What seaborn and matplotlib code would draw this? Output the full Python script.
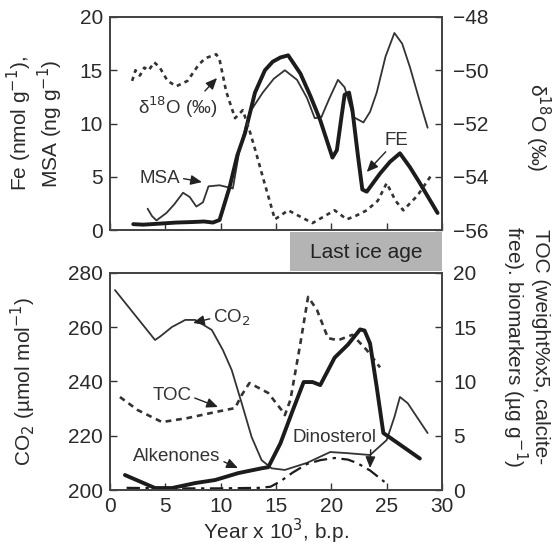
import numpy as np
import pandas as pd
import matplotlib
matplotlib.use("Agg")
import matplotlib.pyplot as plt
import seaborn as sns
from matplotlib.patches import Rectangle

sns.set_style("ticks")
plt.rcParams['font.family'] = ['Liberation Sans', 'DejaVu Sans']
plt.rcParams['axes.unicode_minus'] = True

# ---------------- data (top panel) ----------------
fe_x = [2.1, 3.0, 4.5, 6.0, 7.5, 8.5, 9.3, 9.9, 10.8, 11.5, 12.2, 13.1, 14.0, 14.7, 15.4, 16.1, 17.2, 18.1, 19.0, 20.1, 20.5, 20.9, 21.2, 21.6, 21.9, 22.4, 22.8, 23.2, 24.4, 25.3, 26.2, 27.1, 28.0, 29.6]
fe_y = [0.55, 0.5, 0.6, 0.7, 0.75, 0.8, 0.7, 0.94, 4.0, 7.0, 9.1, 12.9, 15.0, 15.8, 16.2, 16.4, 14.7, 12.6, 10.3, 6.8, 7.5, 10.5, 12.7, 12.9, 11.3, 7.0, 3.8, 3.6, 5.3, 6.4, 7.2, 5.9, 4.4, 1.6]

msa_x = [3.4, 3.8, 4.2, 5.1, 5.8, 6.6, 7.2, 7.8, 8.4, 8.9, 9.9, 11.1, 11.7, 12.6, 13.8, 14.8, 15.8, 16.9, 17.8, 18.5, 19.1, 19.8, 20.6, 21.2, 22.0, 22.9, 23.5, 24.1, 24.9, 25.7, 26.4, 27.1, 27.9, 28.7]
msa_y = [2.0, 1.3, 0.9, 1.6, 2.4, 3.5, 3.1, 2.2, 2.6, 4.1, 4.2, 3.9, 7.5, 11.0, 12.9, 14.2, 15.0, 14.1, 12.4, 10.5, 10.6, 12.3, 14.1, 13.4, 10.6, 10.1, 11.1, 12.9, 16.3, 18.5, 17.5, 15.3, 12.4, 9.6]

d18o_x = [2.0, 2.3, 2.7, 3.1, 3.5, 4.0, 4.5, 5.2, 6.0, 7.0, 8.0, 8.6, 9.6, 9.9, 10.5, 11.3, 12.0, 12.6, 13.2, 13.8, 14.9, 16.1, 17.2, 18.3, 19.3, 20.3, 21.4, 22.3, 23.2, 24.2, 25.0, 25.8, 26.5, 27.8, 29.1]
d18o_y = [-50.4, -50.0, -50.2, -49.9, -50.0, -49.7, -49.9, -50.4, -50.6, -50.4, -49.8, -49.55, -49.4, -49.6, -50.8, -51.8, -51.5, -52.25, -53.1, -54.0, -55.6, -55.26, -55.5, -55.74, -55.5, -55.26, -55.6, -55.45, -55.26, -54.9, -54.24, -54.9, -55.26, -54.7, -53.9]

# ---------------- data (bottom panel) ----------------
co2_x = [0.45, 4.07, 4.5, 5.6, 6.8, 7.7, 9.2, 10.2, 11.0, 11.9, 12.8, 13.7, 14.6, 15.8, 17.8, 19.9, 21.4, 23.5, 25.0, 25.7, 26.2, 26.9, 28.7]
co2_y = [273.7, 255.3, 256.5, 260.1, 262.7, 262.7, 259.0, 251.6, 244.2, 232.0, 219.5, 211.0, 208.0, 207.4, 210.0, 214.0, 213.6, 212.9, 218.4, 226.9, 234.3, 232.0, 221.0]

toc_x = [0.9, 2.5, 4.7, 7.0, 9.5, 11.3, 11.9, 12.6, 14.3, 15.5, 15.8, 16.3, 17.2, 17.9, 18.7, 19.7, 20.6, 21.9, 23.2, 24.4]
toc_y = [8.57, 7.37, 6.26, 6.63, 7.18, 7.55, 8.75, 9.86, 8.94, 7.37, 6.9, 8.3, 13.5, 17.8, 16.6, 14.0, 13.8, 14.3, 12.9, 11.3]

alk_x = [1.35, 4.07, 5.6, 7.7, 9.5, 11.6, 13.7, 14.3, 15.4, 16.5, 17.5, 18.3, 19.0, 20.3, 21.5, 22.6, 23.0, 23.5, 24.1, 24.7, 25.9, 28.0]
alk_y = [1.38, 0.18, 0.18, 0.64, 0.92, 1.56, 2.0, 2.1, 4.3, 7.3, 9.95, 9.95, 9.67, 12.2, 13.4, 14.8, 14.7, 13.5, 9.5, 5.25, 4.4, 2.9]

dino_x = [1.5, 5.0, 10.0, 13.5, 14.5, 15.4, 16.5, 17.8, 19.0, 20.3, 21.5, 22.3, 23.5, 24.8]
dino_y = [0.2, 0.15, 0.15, 0.2, 0.3, 0.8, 1.6, 2.4, 2.75, 2.95, 2.8, 2.5, 1.8, 0.75]

xticks = [0, 5, 10, 15, 20, 25, 30]

# ---------------- figure ----------------
W, H = 553, 547
fig = plt.figure(figsize=(W / 100, H / 100), dpi=100)

def fx(px):
    return px / W

def fy(py):
    return 1 - py / H

ax1 = fig.add_axes([fx(110), fy(230), fx(442) - fx(110), fy(17) - fy(230)])
ax1r = ax1.twinx()
ax2 = fig.add_axes([fx(110), fy(490), fx(442) - fx(110), fy(273) - fy(490)])
ax2r = ax2.twinx()

dark = '#1c1c1c'
thin = '#333333'
FS = 15
AFS = 13.5
TC = '#2a2a2a'

# top panel lines
sns.lineplot(x=msa_x, y=msa_y, ax=ax1, color=thin, lw=1.3, sort=False, estimator=None)
sns.lineplot(x=fe_x, y=fe_y, ax=ax1, color=dark, lw=2.8, sort=False, estimator=None)
sns.lineplot(x=d18o_x, y=d18o_y, ax=ax1r, color=thin, lw=1.9, sort=False, estimator=None,
             linestyle=(0, (1.6, 1.6)))

# bottom panel lines
sns.lineplot(x=co2_x, y=co2_y, ax=ax2, color=thin, lw=1.3, sort=False, estimator=None)
sns.lineplot(x=toc_x, y=toc_y, ax=ax2r, color=thin, lw=1.9, sort=False, estimator=None,
             linestyle=(0, (2.2, 1.8)))
sns.lineplot(x=alk_x, y=alk_y, ax=ax2r, color=dark, lw=2.8, sort=False, estimator=None)
sns.lineplot(x=dino_x, y=dino_y, ax=ax2r, color=dark, lw=1.6, sort=False, estimator=None,
             linestyle=(0, (6, 2.5, 1.5, 2.5)))

# axes limits and ticks
for a in (ax1, ax1r, ax2, ax2r):
    a.set_xlim(0, 30)
    a.set_xticks(xticks)
    a.tick_params(direction='in', length=5, width=1.0, colors='#333333', labelsize=FS,
                  labelcolor=TC)
    for s in a.spines.values():
        s.set_visible(True)
        s.set_linewidth(1.3)
        s.set_color('#444444')
    a.set_xlabel('')
    a.set_ylabel('')

ax1.set_ylim(0, 20)
ax1.set_yticks([0, 5, 10, 15, 20])
ax1r.set_ylim(-56, -48)
ax1r.set_yticks([-56, -54, -52, -50, -48])
ax1.tick_params(axis='x', labelbottom=False)
ax1r.tick_params(axis='x', labelbottom=False)

ax2.set_ylim(200, 280)
ax2.set_yticks([200, 220, 240, 260, 280])
ax2r.set_ylim(0, 20)
ax2r.set_yticks([0, 5, 10, 15, 20])
ax2r.tick_params(axis='x', labelbottom=False)

ax1.tick_params(axis='y', pad=5)
ax2.tick_params(axis='y', pad=5)
ax1r.tick_params(axis='y', pad=8)
ax2r.tick_params(axis='y', pad=8)
ax2.tick_params(axis='x', pad=5)

# axis labels
ax1.text(-0.226, 0.5, 'Fe (nmol g$^{-1}$),\nMSA (ng g$^{-1}$)', transform=ax1.transAxes,
         rotation=90, ha='center', va='center', fontsize=FS, color=TC,
         linespacing=1.05)
ax1.text(1.289, 0.484, 'δ$^{18}$O (‰)', transform=ax1.transAxes,
         rotation=270, ha='center', va='center', fontsize=FS, color=TC)
ax2.text(-0.262, 0.5, 'CO$_2$ (µmol mol$^{-1}$)', transform=ax2.transAxes,
         rotation=90, ha='center', va='center', fontsize=FS, color=TC)
ax2.text(1.25, 0.66, 'TOC (weight%x5, calcite-\nfree). biomarkers (µg g$^{-1}$)',
         transform=ax2.transAxes, rotation=270, ha='center', va='center',
         fontsize=FS, color=TC, linespacing=1.05)
ax2.text(0.5, -0.19, 'Year x 10$^3$, b.p.', transform=ax2.transAxes, ha='center',
         va='center', fontsize=FS, color=TC)

# annotations
arrow = dict(arrowstyle='-|>,head_length=0.5,head_width=0.22', color='#222222', lw=1.0,
             shrinkA=0, shrinkB=0)
ax1.annotate('δ$^{18}$O (‰)', xy=(9.67, 14.27), xytext=(6.14, 11.55),
             ha='center', va='center', fontsize=AFS, color='#333333',
             arrowprops=dict(arrow, relpos=(0.8, 1.0)))
ax1.annotate('MSA', xy=(8.31, 4.5), xytext=(4.52, 4.88), ha='center', va='center',
             fontsize=AFS, color='#333333', arrowprops=dict(arrow, relpos=(1.0, 0.5)))
ax1.annotate('FE', xy=(23.2, 5.45), xytext=(25.84, 8.45), ha='center', va='center',
             fontsize=AFS, color='#333333', arrowprops=dict(arrow, relpos=(0.2, 0.0)))

ax2.annotate('CO$_2$', xy=(7.5, 261.6), xytext=(11.0, 263.4), ha='center', va='center',
             fontsize=AFS, color='#333333', arrowprops=dict(arrow, relpos=(0.0, 0.5)))
ax2.annotate('TOC', xy=(9.76, 230.6), xytext=(5.6, 235.0), ha='center', va='center',
             fontsize=AFS, color='#333333', arrowprops=dict(arrow, relpos=(1.0, 0.4)))
ax2.annotate('Alkenones', xy=(11.56, 208.1), xytext=(6.05, 212.2), ha='center',
             va='center', fontsize=AFS, color='#333333',
             arrowprops=dict(arrow, relpos=(1.0, 0.3)))
ax2.annotate('Dinosterol', xy=(23.5, 208.1), xytext=(20.3, 219.2), ha='center',
             va='center', fontsize=AFS, color='#333333',
             arrowprops=dict(arrow, relpos=(0.93, 0.0)))

# "Last ice age" box
fig.patches.append(Rectangle((fx(290), fy(271)), fx(442) - fx(290), fy(232) - fy(271),
                             transform=fig.transFigure, facecolor='#b4b4b4',
                             edgecolor='none', zorder=0))
fig.text((fx(290) + fx(442)) / 2, fy(252), 'Last ice age', ha='center', va='center',
         fontsize=FS, color='#222222')

fig.savefig('out.png', dpi=100)
